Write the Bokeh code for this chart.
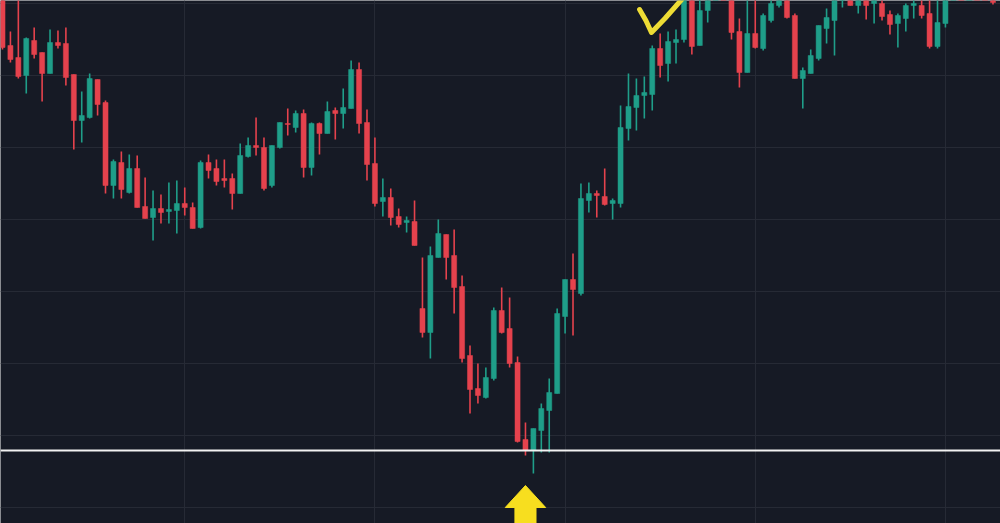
from bokeh.plotting import figure
from bokeh.models import ColumnDataSource, Range1d, FixedTicker, Span
from bokeh.embed import file_html
from bokeh.resources import INLINE

# OHLC values (price units; top of view = 523)
opens = [528, 478, 466, 448, 483, 471, 450, 481, 480, 449,
         403, 406, 444, 421, 338, 361, 331, 355, 317, 306,
         315, 312, 313, 320, 316, 296, 361, 355, 345, 345,
         330, 367, 378, 376, 338, 376, 400, 396, 410, 356,
         400, 390, 413, 410, 415, 454, 401, 360, 322, 326,
         307, 301, 302, 215, 191, 266, 289, 268, 237, 168,
         135, 126, 145, 213, 195, 161, 84, 73, 93, 113,
         130, 207, 244, 230, 323, 330, 327, 320, 320, 395,
         416, 428, 429, 475, 460, 481, 484, 531, 478, 513,
         538, 568, 543, 492, 451, 490, 475, 503, 518, 528,
         508, 445, 450, 465, 495, 503, 526, 533, 518, 531,
         520, 520, 509, 500, 505, 518, 518, 510, 477, 500,
         531, 552, 540, 568, 550, 534]
highs = [538, 492, 533, 486, 496, 471, 494, 493, 496, 449,
         432, 450, 444, 423, 364, 372, 369, 368, 346, 333,
         329, 341, 343, 336, 321, 363, 369, 364, 364, 350,
         380, 386, 406, 386, 378, 401, 415, 413, 414, 401,
         401, 422, 416, 435, 463, 461, 414, 386, 345, 335,
         315, 307, 323, 266, 277, 304, 289, 294, 248, 178,
         160, 156, 216, 236, 226, 167, 101, 95, 120, 145,
         215, 244, 270, 340, 341, 333, 355, 325, 418, 450,
         445, 447, 478, 490, 492, 494, 543, 538, 528, 543,
         583, 578, 553, 505, 528, 528, 510, 526, 533, 531,
         510, 456, 474, 498, 515, 531, 543, 538, 538, 538,
         533, 528, 513, 510, 520, 528, 528, 533, 533, 538,
         560, 565, 575, 580, 556, 540]
lows = [474, 461, 445, 430, 465, 422, 450, 475, 438, 374,
        381, 405, 408, 330, 325, 325, 330, 316, 305, 283,
        300, 300, 290, 308, 295, 295, 345, 338, 336, 314,
        330, 366, 368, 333, 336, 375, 388, 391, 346, 348,
        369, 390, 384, 395, 415, 390, 343, 317, 307, 298,
        296, 291, 278, 186, 165, 266, 244, 210, 161, 110,
        120, 125, 143, 190, 156, 81, 68, 50, 71, 71,
        130, 190, 188, 228, 311, 306, 318, 304, 316, 383,
        393, 405, 413, 446, 442, 460, 481, 469, 478, 501,
        531, 528, 484, 436, 451, 475, 473, 501, 516, 505,
        445, 415, 450, 463, 480, 468, 516, 518, 510, 504,
        500, 503, 489, 476, 492, 505, 505, 475, 475, 496,
        526, 535, 532, 545, 528, 519]
closes = [476, 464, 447, 485, 469, 450, 481, 478, 446, 403,
          408, 445, 419, 338, 362, 334, 355, 316, 305, 315,
          311, 314, 320, 316, 295, 361, 353, 342, 343, 330,
          368, 378, 376, 335, 378, 401, 399, 410, 356, 400,
          390, 412, 410, 416, 454, 400, 359, 320, 326, 306,
          299, 303, 278, 191, 268, 290, 266, 236, 165, 134,
          128, 146, 213, 191, 160, 82, 73, 95, 115, 131,
          210, 244, 234, 325, 330, 328, 319, 323, 396, 417,
          428, 431, 475, 458, 482, 484, 533, 477, 513, 535,
          573, 543, 491, 451, 490, 476, 508, 520, 528, 506,
          445, 453, 468, 498, 506, 526, 533, 518, 531, 518,
          531, 507, 499, 508, 518, 520, 508, 477, 501, 531,
          552, 540, 568, 550, 535, 521]

support_level = 73          # white horizontal line
arrow_index = 66            # candle the yellow arrow points at
check_x = [80.4, 81.2, 81.9, 83.6, 85.6, 86.4]   # hand-drawn tick mark
check_y = [514, 503, 491, 505, 523, 530]

BG = "#161a25"
GRID = "#262a35"
UP = "#1f9e89"
DOWN = "#e5424d"
YELLOW = "#f7de1f"

n = len(opens)
idx = list(range(n))
colors = [UP if c >= o else DOWN for o, c in zip(opens, closes)]
tops = [max(o, c) for o, c in zip(opens, closes)]
bottoms = [min(o, c) for o, c in zip(opens, closes)]

src = ColumnDataSource(dict(x=idx, o=opens, h=highs, l=lows, c=closes,
                            top=tops, bottom=bottoms, color=colors))

p = figure(width=1000, height=523, output_backend="svg", toolbar_location=None,
           x_range=Range1d(-0.252, 125.95), y_range=Range1d(0, 523),
           min_border=0, background_fill_color=BG, border_fill_color=BG,
           outline_line_color=None)
p.xaxis.visible = False
p.yaxis.visible = False
p.xgrid.ticker = FixedTicker(ticks=[23, 47, 71, 95, 119])
p.ygrid.ticker = FixedTicker(ticks=[16, 88, 160, 232, 304, 376, 448, 520])
p.xgrid.grid_line_color = GRID
p.ygrid.grid_line_color = GRID
p.xgrid.grid_line_width = 1
p.ygrid.grid_line_width = 1

p.segment(x0="x", y0="l", x1="x", y1="h", color="color", line_width=1.6, source=src)
p.vbar(x="x", width=0.64, top="top", bottom="bottom", fill_color="color",
       line_color="color", line_width=0.5, source=src)

p.add_layout(Span(location=support_level, dimension="width",
                  line_color="#f2f2f2", line_width=2))

# yellow arrow under the low
ax = arrow_index
tip = 38
head_base = 16
arrow_xs = [ax, ax + 2.55, ax + 1.33, ax + 1.33, ax - 1.33, ax - 1.33, ax - 2.55]
arrow_ys = [tip, head_base, head_base, -5, -5, head_base, head_base]
p.patch(arrow_xs, arrow_ys, fill_color=YELLOW, line_color=YELLOW, line_width=1)

p.line(check_x, check_y, line_color="#eedc35", line_width=5,
       line_cap="round", line_join="round")

open("out.html", "w").write(file_html(p, INLINE))
